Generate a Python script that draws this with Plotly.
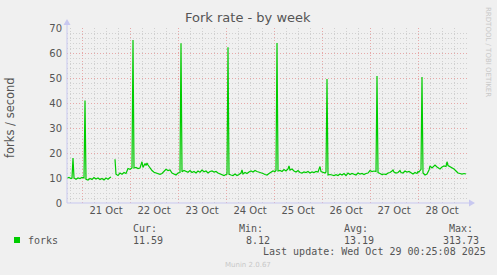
import plotly.graph_objects as go

times = [
    "2025-10-20 16:30", "2025-10-20 17:30", "2025-10-20 18:30", "2025-10-20 19:00", "2025-10-20 19:30",
    "2025-10-20 20:00", "2025-10-20 21:00", "2025-10-20 22:00", "2025-10-20 23:00",
    "2025-10-21 00:00", "2025-10-21 01:00", "2025-10-21 01:30", "2025-10-21 02:00", "2025-10-21 03:00",
    "2025-10-21 04:00", "2025-10-21 05:00", "2025-10-21 06:00", "2025-10-21 07:00", "2025-10-21 08:00",
    "2025-10-21 09:00", "2025-10-21 10:00", "2025-10-21 11:00", "2025-10-21 12:00", "2025-10-21 13:00",
    "2025-10-21 14:00", "2025-10-21 14:30", "2025-10-21 15:30", "2025-10-21 16:30", "2025-10-21 17:00",
    "2025-10-21 18:00", "2025-10-21 19:00", "2025-10-21 20:00", "2025-10-21 21:00", "2025-10-21 22:00",
    "2025-10-21 22:30", "2025-10-21 23:00",
    "2025-10-22 00:00", "2025-10-22 01:00", "2025-10-22 01:30", "2025-10-22 02:00", "2025-10-22 03:00",
    "2025-10-22 04:00", "2025-10-22 05:00", "2025-10-22 06:00", "2025-10-22 06:30", "2025-10-22 07:30",
    "2025-10-22 08:00", "2025-10-22 08:30", "2025-10-22 09:00", "2025-10-22 10:00", "2025-10-22 11:00",
    "2025-10-22 12:00", "2025-10-22 13:00", "2025-10-22 14:00", "2025-10-22 15:00", "2025-10-22 16:00",
    "2025-10-22 17:00", "2025-10-22 18:00", "2025-10-22 19:00", "2025-10-22 20:00", "2025-10-22 21:00",
    "2025-10-22 22:00", "2025-10-22 23:00",
    "2025-10-23 00:00", "2025-10-23 01:00", "2025-10-23 01:30", "2025-10-23 02:00", "2025-10-23 03:00",
    "2025-10-23 04:00", "2025-10-23 05:00", "2025-10-23 06:00", "2025-10-23 07:00", "2025-10-23 08:00",
    "2025-10-23 09:00", "2025-10-23 10:00", "2025-10-23 11:00", "2025-10-23 12:00", "2025-10-23 13:00",
    "2025-10-23 14:00", "2025-10-23 15:00", "2025-10-23 16:00", "2025-10-23 17:00", "2025-10-23 18:00",
    "2025-10-23 19:00", "2025-10-23 20:00", "2025-10-23 21:00", "2025-10-23 22:00", "2025-10-23 23:00",
    "2025-10-24 00:00", "2025-10-24 00:30", "2025-10-24 01:00", "2025-10-24 01:30", "2025-10-24 02:30",
    "2025-10-24 03:30", "2025-10-24 04:30", "2025-10-24 05:30", "2025-10-24 06:30", "2025-10-24 07:30",
    "2025-10-24 08:00", "2025-10-24 08:30", "2025-10-24 09:30", "2025-10-24 10:30", "2025-10-24 11:30",
    "2025-10-24 12:30", "2025-10-24 13:30", "2025-10-24 14:30", "2025-10-24 15:30", "2025-10-24 16:30",
    "2025-10-24 17:30", "2025-10-24 18:30", "2025-10-24 19:30", "2025-10-24 20:30", "2025-10-24 21:30",
    "2025-10-24 22:30", "2025-10-24 23:30",
    "2025-10-25 00:30", "2025-10-25 01:00", "2025-10-25 01:30", "2025-10-25 02:00", "2025-10-25 03:00",
    "2025-10-25 04:00", "2025-10-25 05:00", "2025-10-25 06:00", "2025-10-25 07:00", "2025-10-25 07:30",
    "2025-10-25 08:00", "2025-10-25 09:00", "2025-10-25 10:00", "2025-10-25 11:00", "2025-10-25 12:00",
    "2025-10-25 13:00", "2025-10-25 14:00", "2025-10-25 15:00", "2025-10-25 16:00", "2025-10-25 17:00",
    "2025-10-25 18:00", "2025-10-25 19:00", "2025-10-25 20:00", "2025-10-25 21:00", "2025-10-25 22:00",
    "2025-10-25 22:30", "2025-10-25 23:00", "2025-10-25 23:30",
    "2025-10-26 00:30", "2025-10-26 01:30", "2025-10-26 02:00", "2025-10-26 02:30", "2025-10-26 03:00",
    "2025-10-26 04:00", "2025-10-26 05:00", "2025-10-26 06:00", "2025-10-26 07:00", "2025-10-26 08:00",
    "2025-10-26 09:00", "2025-10-26 10:00", "2025-10-26 11:00", "2025-10-26 12:00", "2025-10-26 13:00",
    "2025-10-26 14:00", "2025-10-26 15:00", "2025-10-26 16:00", "2025-10-26 17:00", "2025-10-26 18:00",
    "2025-10-26 19:00", "2025-10-26 20:00", "2025-10-26 21:00", "2025-10-26 22:00", "2025-10-26 23:00",
    "2025-10-27 00:00", "2025-10-27 01:00", "2025-10-27 02:00", "2025-10-27 03:00", "2025-10-27 03:30",
    "2025-10-27 04:00", "2025-10-27 05:00", "2025-10-27 06:00", "2025-10-27 07:00", "2025-10-27 08:00",
    "2025-10-27 09:00", "2025-10-27 10:00", "2025-10-27 11:00", "2025-10-27 11:30", "2025-10-27 12:00",
    "2025-10-27 13:00", "2025-10-27 14:00", "2025-10-27 15:00", "2025-10-27 15:30", "2025-10-27 16:30",
    "2025-10-27 17:30", "2025-10-27 18:30", "2025-10-27 19:30", "2025-10-27 20:30", "2025-10-27 21:30",
    "2025-10-27 22:30", "2025-10-27 23:30",
    "2025-10-28 00:00", "2025-10-28 00:30", "2025-10-28 01:00", "2025-10-28 01:30", "2025-10-28 02:00",
    "2025-10-28 02:30", "2025-10-28 03:30", "2025-10-28 04:30", "2025-10-28 05:30", "2025-10-28 06:00",
    "2025-10-28 07:00", "2025-10-28 08:00", "2025-10-28 08:30", "2025-10-28 09:30", "2025-10-28 10:30",
    "2025-10-28 11:00", "2025-10-28 12:00", "2025-10-28 13:00", "2025-10-28 14:00", "2025-10-28 14:30",
    "2025-10-28 15:00", "2025-10-28 16:00", "2025-10-28 17:00", "2025-10-28 18:00", "2025-10-28 19:00",
    "2025-10-28 20:00", "2025-10-28 21:00", "2025-10-28 22:00", "2025-10-28 23:00", "2025-10-29 00:00",
]

forks = [
    10.0, 10.2, 9.8, 10.0, 18.0,
    10.0, 9.5, 10.0, 9.8,
    10.2, 10.0, 41.0, 9.5, 9.2,
    9.8, 9.4, 10.2, 9.6, 10.0,
    9.4, 9.8, 9.2, 10.0, 9.5,
    10.2, 10.4, None, 17.5, 11.5,
    11.0, 12.0, 11.5, 12.2, 11.8,
    13.0, 13.8,
    13.5, 14.0, 65.2, 14.0, 14.2,
    13.8, 14.0, 16.5, 14.2, 15.8,
    15.0, 16.0, 15.2, 14.0, 13.0,
    12.3, 12.0, 11.8, 11.5, 11.8,
    12.8, 13.5, 13.0, 13.2, 12.0,
    11.5, 11.2,
    12.0, 12.2, 63.9, 12.5, 13.0,
    12.6, 12.3, 13.0, 12.2, 12.6,
    12.0, 12.8, 12.3, 13.2, 12.5,
    12.8, 12.0, 12.6, 12.8, 12.4,
    12.6, 12.0, 11.6, 11.2, 11.0,
    11.4, 11.6, 62.3, 11.5, 11.2,
    11.0, 11.6, 11.0, 11.4, 12.0,
    13.2, 11.6, 12.2, 11.8, 12.4,
    12.8, 12.4, 13.0, 12.6, 12.4,
    12.0, 11.8, 11.4, 11.2, 11.8,
    12.4, 12.8,
    12.6, 13.0, 64.0, 12.8, 13.0,
    12.6, 13.4, 12.8, 13.6, 14.8,
    13.2, 13.6, 12.8, 12.4, 13.0,
    12.2, 12.0, 12.4, 12.2, 12.6,
    12.0, 12.4, 12.2, 12.6, 12.4,
    13.2, 14.6, 12.6,
    12.2, 12.0, 12.4, 49.6, 11.2,
    11.4, 11.2, 11.0, 11.3, 11.0,
    11.6, 11.2, 11.8, 11.0, 12.0,
    11.4, 11.8, 11.6, 11.2, 12.0,
    11.6, 11.8, 11.4, 11.8, 12.0,
    13.0, 12.6, 12.8, 12.6, 50.8,
    12.2, 11.8, 11.4, 11.6, 11.4,
    12.0, 12.2, 12.8, 13.2, 12.4,
    12.0, 12.2, 13.0, 12.2, 12.0,
    12.8, 12.4, 12.6, 12.0, 11.6,
    12.2, 11.8,
    12.6, 12.4, 13.0, 13.4, 50.4,
    12.0, 11.2, 11.6, 13.2, 14.8,
    14.0, 14.6, 15.2, 14.4, 14.0,
    13.6, 14.4, 14.8, 14.6, 16.5,
    15.0, 14.6, 14.0, 13.6, 12.8,
    12.0, 11.8, 11.6, 11.8, 11.6,
]

y_ticks = [0, 10, 20, 30, 40, 50, 60, 70]
series_name = "forks"
stat_labels = ["Cur:", "Min:", "Avg:", "Max:"]
stat_values = ["11.59", "8.12", "13.19", "313.73"]
title_text = "Fork rate - by week"
y_title = "forks / second"
last_update = "Last update: Wed Oct 29 00:25:08 2025"
x_start = "2025-10-20 16:30"
x_end = "2025-10-29 00:30"

# plot area geometry (pixels)
W, H = 497, 275
L, R, T, B = 67, 467, 28, 203
pw, ph = R - L, B - T


def px(x):
    return (x - L) / pw


def py(y):
    return (B - y) / ph


BG = "#F0F0F0"
MAJOR = "#E6A8A8"
MINOR = "#D0D0D0"
AXIS = "#C8C8F0"
TXT = "#555555"
GREEN = "#00CC00"
DASH = "1px,2px"

fig = go.Figure()
fig.add_trace(go.Scatter(
    x=times, y=forks, mode="lines", connectgaps=False,
    line=dict(color=GREEN, width=1.2), hoverinfo="skip", showlegend=False,
))

fig.update_layout(
    width=W, height=H,
    margin=dict(l=L, r=W - R, t=T, b=H - B, pad=0),
    paper_bgcolor=BG, plot_bgcolor=BG,
    font=dict(family="DejaVu Sans", size=10, color=TXT),
    showlegend=False,
)

fig.update_xaxes(
    type="date", range=[x_start, x_end],
    tick0="2025-10-21", dtick=86400000, tickformat="%d %b",
    ticklabelmode="period", ticks="", showline=False, zeroline=False,
    showgrid=True, gridcolor=MAJOR, griddash=DASH, gridwidth=1,
    minor=dict(dtick=6 * 3600000, showgrid=True, gridcolor=MINOR, griddash=DASH, gridwidth=1),
    tickfont=dict(size=10, color=TXT),
)
fig.update_yaxes(
    range=[0, 70.02], tickvals=y_ticks, ticks="", showline=False, zeroline=False,
    showgrid=True, gridcolor=MAJOR, griddash=DASH, gridwidth=1,
    minor=dict(dtick=2, showgrid=True, gridcolor=MINOR, griddash=DASH, gridwidth=1),
    tickfont=dict(size=10, color=TXT), ticklabelstandoff=4,
)

shapes = []
# axis lines
shapes.append(dict(type="line", xref="paper", yref="paper", x0=0, x1=px(470), y0=0, y1=0,
                   line=dict(color=AXIS, width=1)))
shapes.append(dict(type="line", xref="paper", yref="paper", x0=0, x1=0, y0=0, y1=py(24),
                   line=dict(color=AXIS, width=1)))
# arrows
shapes.append(dict(type="path", xref="paper", yref="paper",
                   path=f"M {px(469)} {py(199.5)} L {px(475)} {py(203)} L {px(469)} {py(206.5)} Z",
                   fillcolor=AXIS, line=dict(width=0)))
shapes.append(dict(type="path", xref="paper", yref="paper",
                   path=f"M {px(63.5)} {py(25)} L {px(67)} {py(19)} L {px(70.5)} {py(25)} Z",
                   fillcolor=AXIS, line=dict(width=0)))
# legend swatch
shapes.append(dict(type="rect", xref="paper", yref="paper",
                   x0=px(14), x1=px(20), y0=py(243), y1=py(237),
                   fillcolor=GREEN, line=dict(width=0)))
fig.update_layout(shapes=shapes)

ann = []


def text(x, y, s, size=10, color=TXT, family="DejaVu Sans Mono", xanchor="left", angle=0):
    ann.append(dict(x=px(x), y=py(y), xref="paper", yref="paper", text=s, showarrow=False,
                    xanchor=xanchor, yanchor="middle", textangle=angle,
                    font=dict(size=size, color=color, family=family)))


text(248, 18, title_text, size=13, color="#555555", family="DejaVu Sans", xanchor="center")
text(10, 118, y_title, size=11.5, color=TXT, family="DejaVu Sans", xanchor="center", angle=-90)
text(488, 52, "RRDTOOL / TOBI OETIKER", size=7, color="#C8C8C8", family="DejaVu Sans",
     xanchor="center", angle=90)
text(26, 240, series_name)
stat_x = [131, 237, 342, 447]
val_x = [131, 243.5, 342, 441]
for sx, vx, lab, val in zip(stat_x, val_x, stat_labels, stat_values):
    text(sx, 228, lab)
    text(vx, 240, val)
text(261, 251.5, last_update)
text(248, 264.5, "Munin 2.0.67", size=7, color="#C8C8C8", family="DejaVu Sans", xanchor="center")
fig.update_layout(annotations=ann)

fig.write_html("out.html")
